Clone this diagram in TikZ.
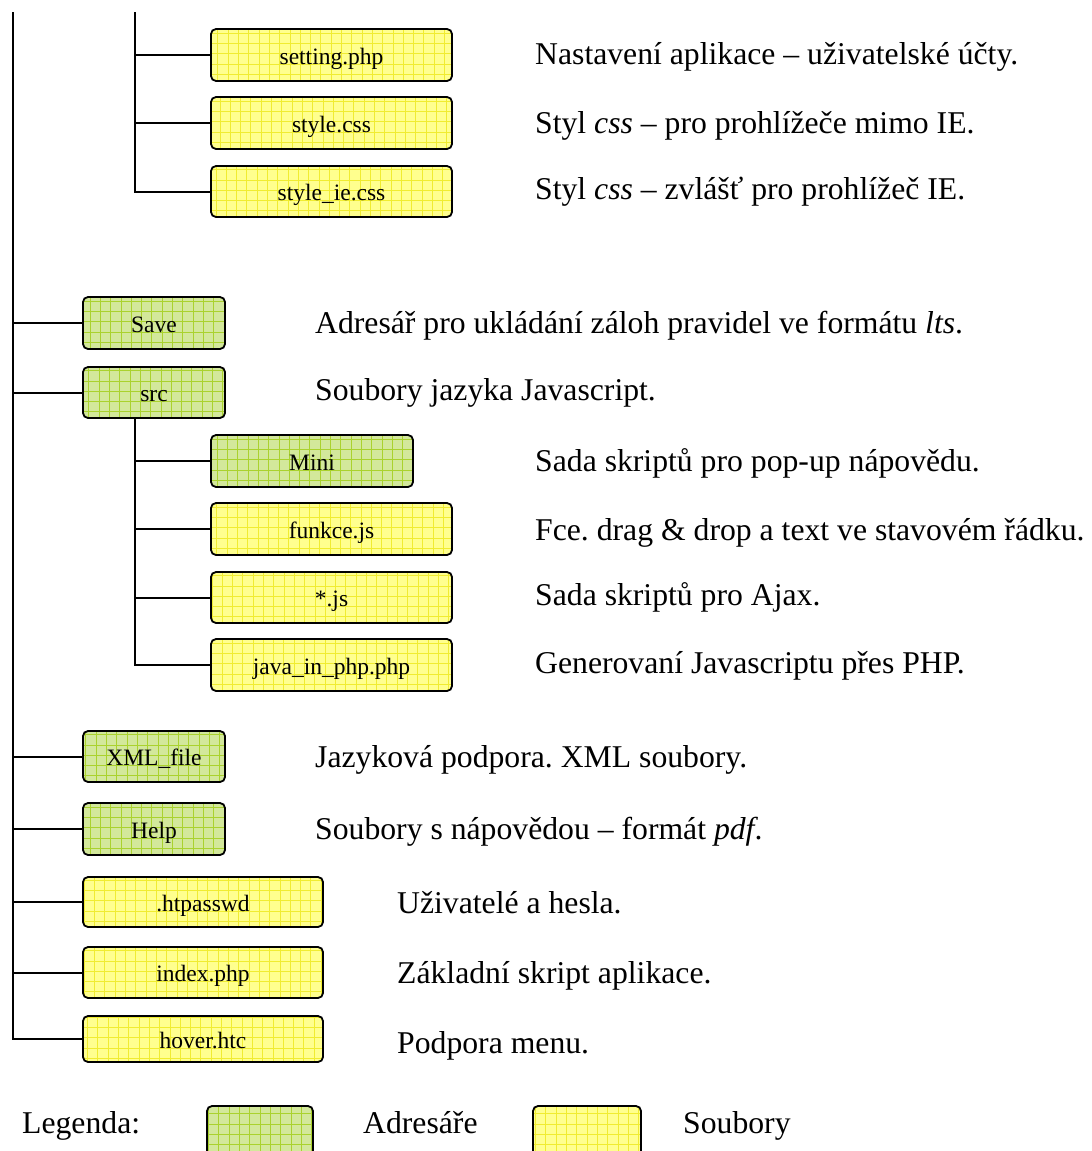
\documentclass[tikz,border=0pt]{standalone}
\usepackage{fontspec}
\setmainfont{Liberation Serif}
\frenchspacing
\definecolor{dirfill}{HTML}{D3E89B}
\definecolor{dirgrid}{HTML}{AAD22E}
\definecolor{filefill}{HTML}{FFFF8E}
\definecolor{filegrid}{HTML}{F0EC30}
\tikzset{
  boxbase/.style={draw=black, line width=1.8pt, rounded corners=5pt, inner sep=0pt,
    text height=18pt, text depth=0pt, align=center,
    font=\fontsize{23.5}{28}\selectfont},
  gridded/.style={path picture={\draw[#1, line width=0.7pt, step=10.3pt]
    (path picture bounding box.south west) grid (path picture bounding box.north east);}},
  dirbox/.style={boxbase, fill=dirfill, gridded=dirgrid},
  filebox/.style={boxbase, fill=filefill, gridded=filegrid},
  desc/.style={anchor=base west, inner sep=0pt, font=\fontsize{31.7}{38}\selectfont},
  conn/.style={line width=2pt, black},
}
\begin{document}
\begin{tikzpicture}[x=1pt,y=-1pt]
\useasboundingbox (0,0) rectangle (1092,1151);

% boxes
\node[filebox, minimum width=241pt, minimum height=52pt] (setting) at (331.5,55) {setting.php};
\node[filebox, minimum width=241pt, minimum height=52pt] (stylecss) at (331.5,123) {style.css};
\node[filebox, minimum width=241pt, minimum height=51pt] (styleie) at (331.5,191.5) {style\_ie.css};
\node[dirbox, minimum width=142pt, minimum height=52pt] (save) at (154,323) {Save};
\node[dirbox, minimum width=142pt, minimum height=51pt] (src) at (154,392.5) {src};
\node[dirbox, minimum width=202pt, minimum height=52pt] (mini) at (312,461) {Mini};
\node[filebox, minimum width=241pt, minimum height=52pt] (funkce) at (331.5,529) {funkce.js};
\node[filebox, minimum width=241pt, minimum height=51pt] (js) at (331.5,597.5) {*.js};
\node[filebox, minimum width=241pt, minimum height=52pt] (java) at (331.5,665) {java\_in\_php.php};
\node[dirbox, minimum width=142pt, minimum height=51pt] (xml) at (154,756.5) {XML\_file};
\node[dirbox, minimum width=142pt, minimum height=52pt] (help) at (154,829) {Help};
\node[filebox, minimum width=240pt, minimum height=50pt] (htpasswd) at (203,902) {.htpasswd};
\node[filebox, minimum width=240pt, minimum height=51pt] (index) at (203,972.5) {index.php};
\node[filebox, minimum width=240pt, minimum height=46pt] (hover) at (203,1039) {hover.htc};

% connectors
\coordinate (trunk) at (13,12);
\coordinate (subtop) at (135,12);
\coordinate (srcstem) at (135,418);
\draw[conn] (trunk) |- (hover.west);
\foreach \b in {save,src,xml,help,htpasswd,index}
  \draw[conn] (trunk |- \b.west) -- (\b.west);
\draw[conn] (subtop) |- (styleie.west);
\foreach \b in {setting,stylecss}
  \draw[conn] (subtop |- \b.west) -- (\b.west);
\draw[conn] (srcstem) |- (java.west);
\foreach \b in {mini,funkce,js}
  \draw[conn] (srcstem |- \b.west) -- (\b.west);

% descriptions
\node[desc] (d1) at (535,64) {Nastavení aplikace – uživatelské účty.};
\node[desc] (d2) at (535,133) {Styl \textit{css} – pro prohlížeče mimo IE.};
\node[desc] (d3) at (535,199) {Styl \textit{css} – zvlášť pro prohlížeč IE.};
\node[desc] (d4) at (315,333) {Adresář pro ukládání záloh pravidel ve formátu \textit{lts}.};
\node[desc] (d5) at (315,400) {Soubory jazyka Javascript.};
\node[desc] (d6) at (535,471) {Sada skriptů pro pop-up nápovědu.};
\node[desc] (d7) at (535,540) {Fce. drag \& drop a text ve stavovém řádku.};
\node[desc] (d8) at (535,605) {Sada skriptů pro Ajax.};
\node[desc] (d9) at (535,673) {Generovaní Javascriptu přes PHP.};
\node[desc] (d10) at (315,767) {Jazyková podpora. XML soubory.};
\node[desc] (d11) at (315,839) {Soubory s nápovědou – formát \textit{pdf}.};
\node[desc] (d12) at (397,913) {Uživatelé a hesla.};
\node[desc] (d13) at (397,983) {Základní skript aplikace.};
\node[desc] (d14) at (397,1053) {Podpora menu.};

% legend
\node[desc] (leg) at (22,1133) {Legenda:};
\node[dirbox, minimum width=106pt, minimum height=80pt] (legdir) at (260,1146) {};
\node[desc] (legdirt) at (363,1133) {Adresáře};
\node[filebox, minimum width=108pt, minimum height=80pt] (legfile) at (587,1146) {};
\node[desc] (legfilet) at (683,1133) {Soubory};
\end{tikzpicture}
\end{document}
